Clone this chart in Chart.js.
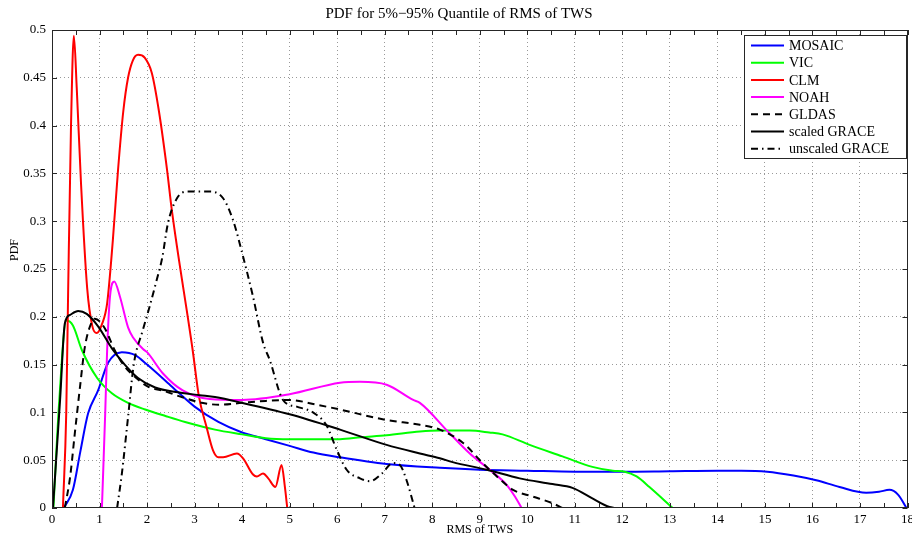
<!DOCTYPE html>
<html>
<head>
<meta charset="utf-8">
<script src="https://cdn.jsdelivr.net/npm/chart.js@4"></script>
<style>
html, body { margin: 0; padding: 0; background: #fff; overflow: hidden; }
</style>
</head>
<body>
<canvas id="pdfChart" width="918" height="538"></canvas>
<script>
// values: [RMS of TWS, PDF]
const mosaic = [[0.25,0],[0.44,0.019],[0.6,0.06],[0.76,0.099],[0.97,0.123],[1.18,0.152],[1.47,0.163],[1.75,0.160],[2.0,0.150],[2.5,0.128],[3.0,0.106],[3.5,0.090],[4.0,0.079],[4.5,0.072],[5.0,0.065],[5.5,0.058],[6.06,0.053],[7.04,0.046],[8.16,0.042],[9.0,0.040],[10,0.039],[11,0.038],[12,0.038],[13,0.0385],[14,0.039],[14.5,0.039],[15.05,0.038],[15.6,0.034],[16.08,0.029],[16.57,0.022],[17.13,0.016],[17.4,0.017],[17.62,0.019],[17.8,0.014],[17.98,0]];
const vic = [[0.03,0],[0.15,0.11],[0.3,0.196],[0.44,0.191],[0.63,0.165],[0.95,0.136],[1.26,0.120],[1.6,0.110],[1.96,0.103],[2.4,0.096],[2.8,0.090],[3.43,0.082],[4.0,0.077],[4.5,0.073],[5.0,0.072],[5.5,0.072],[6.06,0.072],[6.5,0.074],[7.04,0.076],[7.74,0.080],[8.16,0.081],[8.79,0.081],[9.2,0.079],[9.48,0.077],[10.05,0.066],[10.74,0.054],[11.37,0.043],[11.8,0.039],[12.05,0.038],[12.3,0.033],[12.57,0.022],[13.06,0]];
const clm = [[0.23,0],[0.3,0.1],[0.34,0.228],[0.4,0.40],[0.46,0.494],[0.52,0.44],[0.61,0.34],[0.74,0.23],[0.85,0.19],[0.94,0.183],[1.05,0.192],[1.16,0.214],[1.28,0.28],[1.39,0.354],[1.5,0.415],[1.6,0.45],[1.7,0.468],[1.81,0.474],[1.95,0.471],[2.1,0.455],[2.25,0.415],[2.42,0.354],[2.52,0.312],[2.96,0.165],[3.09,0.117],[3.25,0.085],[3.39,0.06],[3.5,0.053],[3.6,0.053],[3.89,0.057],[4.02,0.052],[4.23,0.035],[4.31,0.033],[4.44,0.036],[4.55,0.031],[4.7,0.022],[4.83,0.045],[4.9,0.022],[4.95,0]];
const noah = [[1.05,0],[1.12,0.1],[1.16,0.165],[1.22,0.221],[1.31,0.237],[1.43,0.221],[1.6,0.189],[1.71,0.178],[1.92,0.166],[2.0,0.163],[2.33,0.141],[2.75,0.123],[3.32,0.114],[4.0,0.113],[5.0,0.119],[6.06,0.131],[6.48,0.132],[7.04,0.129],[7.6,0.113],[7.74,0.110],[8.33,0.080],[8.79,0.057],[9.21,0.040],[9.57,0.024],[9.74,0.012],[9.88,0]];
const gldas = [[0.27,0],[0.38,0.032],[0.48,0.078],[0.59,0.127],[0.69,0.168],[0.84,0.195],[0.9,0.198],[1.11,0.188],[1.32,0.165],[1.53,0.148],[1.75,0.137],[2.02,0.127],[2.38,0.122],[2.73,0.116],[3.15,0.110],[3.53,0.108],[4.0,0.110],[4.5,0.112],[5.0,0.113],[5.57,0.108],[6.06,0.103],[7.04,0.092],[7.74,0.087],[8.16,0.082],[8.65,0.068],[9.06,0.047],[9.36,0.033],[9.7,0.019],[10.11,0.012],[10.53,0.005],[10.74,0]];
const scaledGrace = [[0.02,0],[0.17,0.113],[0.27,0.193],[0.38,0.202],[0.55,0.206],[0.73,0.203],[0.97,0.19],[1.26,0.167],[1.53,0.150],[1.81,0.136],[2.17,0.126],[2.65,0.121],[3.11,0.118],[3.43,0.116],[4.0,0.110],[5.0,0.098],[6.06,0.082],[7.04,0.066],[7.74,0.057],[8.16,0.052],[8.43,0.048],[9.15,0.040],[9.84,0.031],[10.53,0.025],[10.95,0.021],[11.37,0.01],[11.73,0.001],[11.85,0]];
const unscaledGrace = [[1.37,0],[1.47,0.036],[1.6,0.095],[1.72,0.15],[1.91,0.186],[2.05,0.21],[2.2,0.238],[2.32,0.262],[2.44,0.298],[2.63,0.324],[2.84,0.331],[3.32,0.331],[3.6,0.324],[3.81,0.301],[4.02,0.263],[4.23,0.221],[4.44,0.173],[4.58,0.155],[4.86,0.113],[5.15,0.106],[5.49,0.1],[5.78,0.086],[5.99,0.061],[6.2,0.04],[6.48,0.031],[6.69,0.028],[6.94,0.036],[7.17,0.047],[7.32,0.045],[7.46,0.029],[7.63,0]];

const seriesNames = ['MOSAIC', 'VIC', 'CLM', 'NOAH', 'GLDAS', 'scaled GRACE', 'unscaled GRACE'];
const seriesData = [mosaic, vic, clm, noah, gldas, scaledGrace, unscaledGrace];
const seriesColors = ['#0000ff', '#00ff00', '#ff0000', '#ff00ff', '#000000', '#000000', '#000000'];
const seriesDash = [[], [], [], [], [7, 5], [], [7, 4, 1.5, 4]];

const serif = 'Liberation Serif';

// MATLAB style box with inward ticks on all four sides
const frameTicks = {
    id: 'frameTicks',
    afterDatasetsDraw(chart) {
        const {ctx, chartArea: a, scales: {x, y}} = chart;
        ctx.save();
        ctx.strokeStyle = '#262626';
        ctx.lineWidth = 1;
        ctx.beginPath();
        for (let v = 0; v <= 18; v += 0.5) {
            const px = Math.round(x.getPixelForValue(v)) + 0.5;
            ctx.moveTo(px, a.bottom); ctx.lineTo(px, a.bottom - 5);
            ctx.moveTo(px, a.top); ctx.lineTo(px, a.top + 5);
        }
        for (let i = 0; i <= 10; i++) {
            const py = Math.round(y.getPixelForValue(i * 0.05)) + 0.5;
            ctx.moveTo(a.left, py); ctx.lineTo(a.left + 5, py);
            ctx.moveTo(a.right, py); ctx.lineTo(a.right - 5, py);
        }
        ctx.stroke();
        ctx.strokeRect(Math.round(a.left) + 0.5, Math.round(a.top) + 0.5,
            Math.round(a.right - a.left) - 1, Math.round(a.bottom - a.top) - 1);
        // y label
        ctx.fillStyle = '#000';
        ctx.font = '12px "' + serif + '"';
        ctx.textAlign = 'center';
        ctx.textBaseline = 'middle';
        ctx.translate(15, 250);
        ctx.rotate(-Math.PI / 2);
        ctx.fillText('PDF', 0, 0);
        ctx.restore();
    }
};

const boxLegend = {
    id: 'boxLegend',
    afterDraw(chart) {
        const ctx = chart.ctx;
        const left = 744, top = 35, w = 162, h = 123;
        ctx.save();
        ctx.fillStyle = '#fff';
        ctx.fillRect(left, top, w, h);
        ctx.strokeStyle = '#262626';
        ctx.lineWidth = 1;
        ctx.strokeRect(left + 0.5, top + 0.5, w, h);
        ctx.font = '14px "' + serif + '"';
        ctx.textBaseline = 'middle';
        ctx.textAlign = 'left';
        chart.data.datasets.forEach((ds, i) => {
            const yy = top + 10.5 + i * 17.2;
            ctx.strokeStyle = ds.borderColor;
            ctx.lineWidth = 2;
            ctx.setLineDash(ds.borderDash);
            ctx.beginPath();
            ctx.moveTo(751, yy);
            ctx.lineTo(784, yy);
            ctx.stroke();
            ctx.setLineDash([]);
            ctx.fillStyle = '#000';
            ctx.fillText(ds.label, 789, yy + 1);
        });
        ctx.restore();
    }
};

const ctxPdf = document.getElementById('pdfChart');

const pdfChart = new Chart(ctxPdf, {
    type: 'line',
    data: {
        datasets: seriesNames.map((name, i) => ({
            label: name,
            data: seriesData[i].map(p => ({x: p[0], y: p[1]})),
            borderColor: seriesColors[i],
            borderDash: seriesDash[i],
            borderWidth: 2,
            pointRadius: 0,
            fill: false,
            cubicInterpolationMode: 'monotone',
            order: seriesNames.length - i
        }))
    },
    options: {
        responsive: false,
        animation: false,
        layout: {padding: 0},
        plugins: {
            legend: {display: false},
            tooltip: {enabled: false},
            title: {
                display: true,
                text: 'PDF for 5%\u221295% Quantile of RMS of TWS',
                color: '#000',
                font: {family: serif, size: 15, weight: 'normal'},
                padding: {top: 5, bottom: 7}
            }
        },
        scales: {
            x: {
                type: 'linear',
                min: 0,
                max: 18,
                ticks: {
                    stepSize: 1,
                    autoSkip: false,
                    maxRotation: 0,
                    padding: 4,
                    color: '#000',
                    font: {family: serif, size: 13}
                },
                grid: {
                    drawTicks: false,
                    color: c => (c.tick && (c.tick.value === 0 || c.tick.value === 18)) ? 'rgba(0,0,0,0)' : 'rgba(0,0,0,0.4)'
                },
                border: {display: false, dash: [1, 3]},
                title: {
                    display: true,
                    text: 'RMS of TWS',
                    color: '#000',
                    font: {family: serif, size: 12},
                    padding: {top: 0, bottom: 1}
                },
                afterFit: s => { s.height = 30; }
            },
            y: {
                min: 0,
                max: 0.5,
                ticks: {
                    stepSize: 0.05,
                    padding: 6,
                    color: '#000',
                    font: {family: serif, size: 13},
                    callback: v => String(+v.toFixed(2))
                },
                grid: {
                    drawTicks: false,
                    color: c => (c.tick && (c.tick.value <= 0 || c.tick.value >= 0.5)) ? 'rgba(0,0,0,0)' : 'rgba(0,0,0,0.4)'
                },
                border: {display: false, dash: [1, 3]},
                afterFit: s => { s.width = 52; }
            }
        }
    },
    plugins: [frameTicks, boxLegend]
});
</script>
</body>
</html>
